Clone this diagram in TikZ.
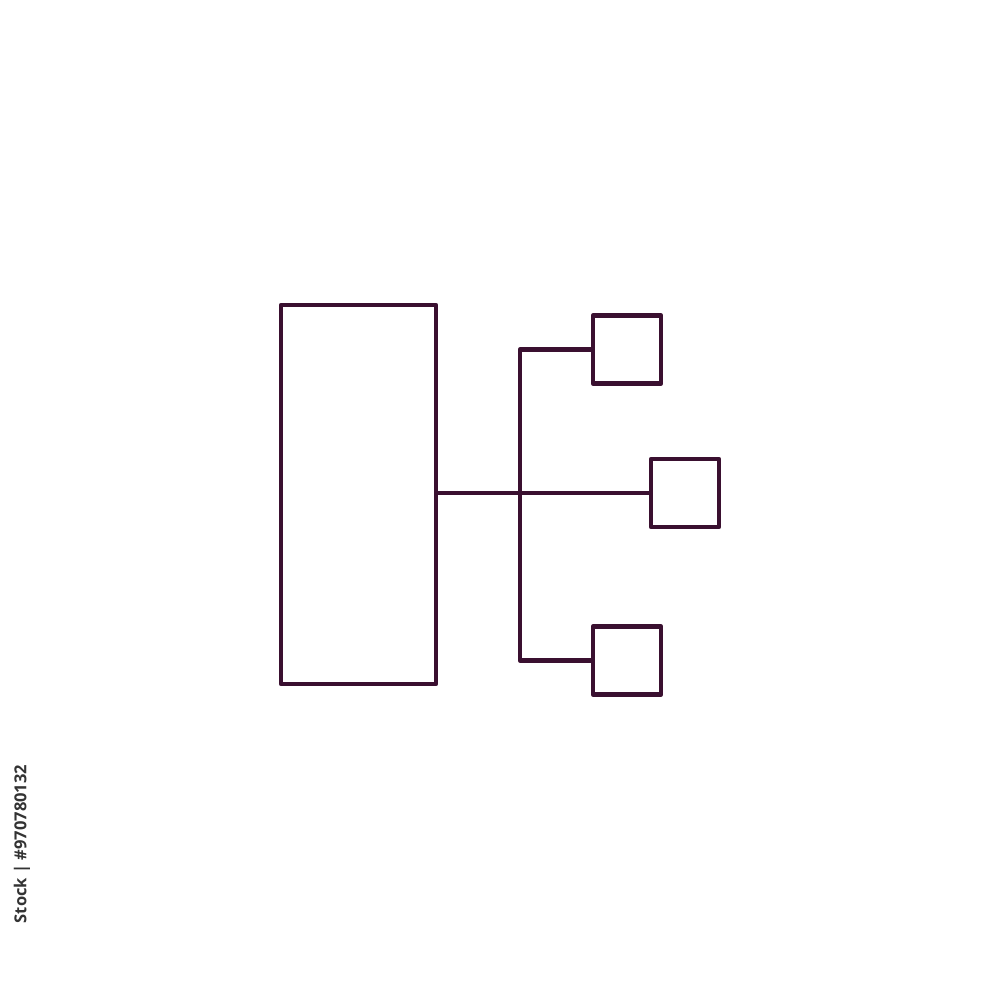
\documentclass[tikz,border=0pt]{standalone}
\usepackage{fontspec}
\newfontfamily\idfont{Open Sans}
\definecolor{plum}{RGB}{58,16,48}
\tikzset{box/.style = {shape = rectangle,
                       color = plum,
                       inner sep = 0pt,
                       line width = 1.3pt,
                       line join = round,
                       draw}}

\begin{document}
\begin{tikzpicture}[box/.style = {shape = rectangle,
                                  color = plum,
                                  inner sep = 0pt,
                                  line width = 1.3pt,
                                  line join = round,
                                  draw},
                    wire/.style = {color = plum,
                                   line width = 1.3pt,
                                   line join = round}]
		\useasboundingbox (0,0) rectangle (10,10);
		\node[box, minimum width = 1.55cm, minimum height = 3.79cm] (main) at (3.585,5.055) {};
		\node[box, minimum size = 0.68cm] (top) at (6.27,6.505) {};
		\node[box, minimum size = 0.68cm] (mid) at (6.85,5.07) {};
		\node[box, minimum size = 0.68cm] (bot) at (6.27,3.395) {};
		\coordinate (trunk) at (5.2,5.07);
		\path[wire] (main.east |- mid.west) edge (mid.west);
		\draw[wire] (top.west) -| (trunk) |- (bot.west);
		\node[rotate = 90, text = black!80, font = \idfont\bfseries\fontsize{4.7}{5}\selectfont]
			(stockid) at (0.22,1.56) {Stock | \#970780132};
	\end{tikzpicture}
\end{document}
